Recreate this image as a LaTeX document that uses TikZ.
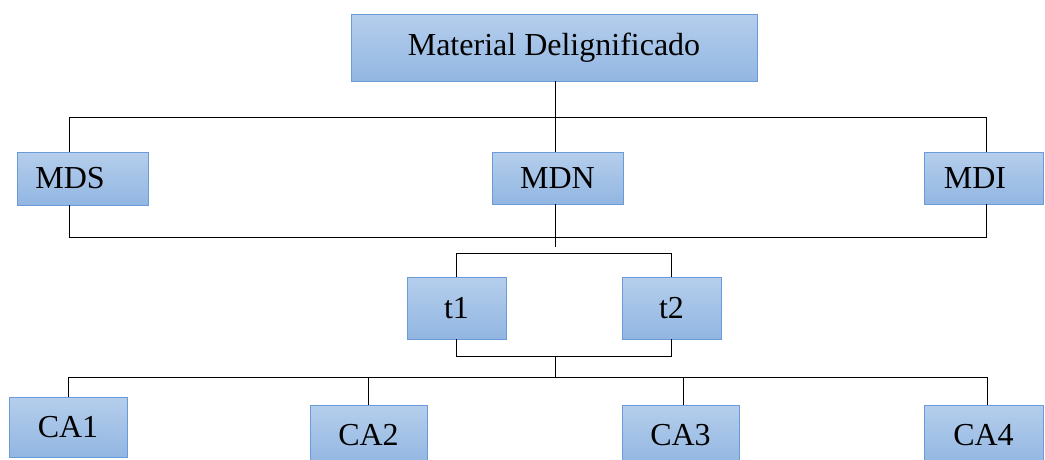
\documentclass[tikz,border=0pt]{standalone}
\usepackage{fontspec}
\setmainfont{Liberation Serif}
\definecolor{boxtop}{HTML}{B5CEEC}
\definecolor{boxbottom}{HTML}{92B6E2}
\definecolor{boxedge}{HTML}{6A9BD8}
\begin{document}
\begin{tikzpicture}[x=1pt,y=-1pt,
    box/.style={draw=boxedge, line width=0.9pt, top color=boxtop, bottom color=boxbottom,
        font=\fontsize{32}{38}\selectfont, inner sep=0pt},
    wire/.style={draw=black, line width=1pt}]
        \useasboundingbox (0,0) rectangle (1045,459);
        \clip (0,0) rectangle (1045,459);

        % boxes
        \node[box, minimum width=406pt, minimum height=67pt] at (554,47.5) (material) {Material Delignificado};
        \node[box, minimum width=131pt, minimum height=53pt] at (82.5,178.5) (mds) {\hspace*{-25pt}MDS};
        \node[box, minimum width=131pt, minimum height=52pt] at (557.5,178) (mdn) {MDN};
        \node[box, minimum width=119pt, minimum height=52pt] at (983.5,178) (mdi) {\hspace*{-17pt}MDI};
        \node[box, minimum width=99pt, minimum height=62pt] at (456.5,308) (t1) {t1};
        \node[box, minimum width=99pt, minimum height=62pt] at (671.5,308) (t2) {t2};
        \node[box, minimum width=118pt, minimum height=60pt] at (68,427) (ca1) {CA1};
        \node[box, minimum width=117pt, minimum height=60pt] at (368.5,435) (ca2) {CA2};
        \node[box, minimum width=117pt, minimum height=60pt] at (680.5,435) (ca3) {CA3};
        \node[box, minimum width=119pt, minimum height=60pt] at (983.5,435) (ca4) {CA4};

        % levels of the connectors
        \coordinate (busa) at (0,117);
        \coordinate (busb) at (0,237);
        \coordinate (busc) at (0,253);
        \coordinate (stem) at (555,0);
        \coordinate (busd) at (0,356);
        \coordinate (buse) at (0,377);
        \coordinate (mdsup) at ([xshift=-13.5pt]mds.north);
        \coordinate (mdsdown) at ([xshift=-13.5pt]mds.south);
        \coordinate (mdiup) at ([xshift=2.5pt]mdi.north);
        \coordinate (mdidown) at ([xshift=2.5pt]mdi.south);

        \draw[wire] (stem |- material.south) -- (stem |- mdn.north);
        \draw[wire] (mdsup) |- (mdiup |- busa) -- (mdiup);
        \draw[wire] (mdsdown) |- (mdidown |- busb) -- (mdidown);
        \draw[wire] (stem |- mdn.south) -- ([yshift=6pt]stem |- busc);
        \draw[wire] (t1.north) |- (t2.north |- busc) -- (t2.north);
        \draw[wire] (t1.south) |- (t2.south |- busd) -- (t2.south);
        \draw[wire] (stem |- busd) -- (stem |- buse);
        \draw[wire] (ca1.north) |- ([xshift=3.5pt]ca4.north |- buse) -- ([xshift=3.5pt]ca4.north);
        \draw[wire] (ca2.north) -- (ca2.north |- buse);
        \draw[wire] ([xshift=2.5pt]ca3.north) -- ([xshift=2.5pt]ca3.north |- buse);

\end{tikzpicture}
\end{document}
